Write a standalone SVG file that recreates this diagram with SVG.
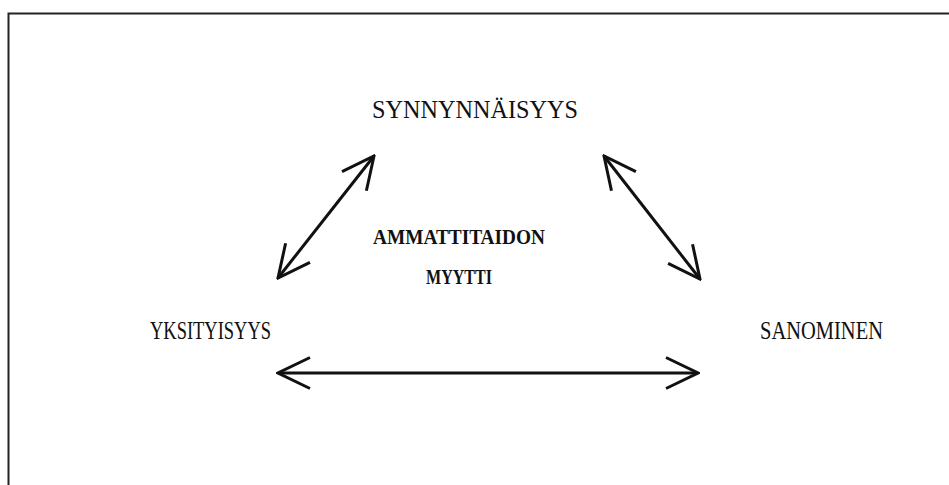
<svg xmlns="http://www.w3.org/2000/svg" width="949" height="485" viewBox="0 0 949 485">
  <style>
    .lbl { font-family: "Liberation Serif", "Times New Roman", serif; font-size: 26px; fill: #111; }
    .core { font-family: "Liberation Serif", "Times New Roman", serif; font-size: 21px; font-weight: bold; fill: #111; }
    .link { stroke: #111; stroke-width: 3; fill: none; }
    .frame { stroke: #222; stroke-width: 2; fill: none; }
  </style>
  <defs>
    <marker id="open-head" viewBox="0 0 36 36" refX="34" refY="18" markerWidth="36" markerHeight="36" markerUnits="userSpaceOnUse" orient="auto-start-reverse">
      <path d="M2,2.5 L34,18 L2,33.5" fill="none" stroke="#111" stroke-width="3" stroke-linejoin="miter"/>
    </marker>
  </defs>

  <rect width="949" height="485" fill="#fff"/>

  <!-- page frame -->
  <path class="frame" d="M8.5,485 V13.5 H949"/>

  <g id="node-synnynnaisyys">
    <text class="lbl" x="372" y="118" textLength="206" lengthAdjust="spacingAndGlyphs">SYNNYNNÄISYYS</text>
  </g>
  <g id="node-yksityisyys">
    <text class="lbl" x="150" y="339" textLength="121" lengthAdjust="spacingAndGlyphs">YKSITYISYYS</text>
  </g>
  <g id="node-sanominen">
    <text class="lbl" x="760" y="339" textLength="123" lengthAdjust="spacingAndGlyphs">SANOMINEN</text>
  </g>
  <g id="node-core">
    <text class="core" x="373" y="244" textLength="172" lengthAdjust="spacingAndGlyphs">AMMATTITAIDON</text>
    <text class="core" x="426" y="284" textLength="66" lengthAdjust="spacingAndGlyphs">MYYTTI</text>
  </g>

  <g id="connectors">
    <line class="link" x1="278" y1="278" x2="374" y2="156" marker-start="url(#open-head)" marker-end="url(#open-head)"/>
    <line class="link" x1="604" y1="156" x2="700" y2="279" marker-start="url(#open-head)" marker-end="url(#open-head)"/>
    <line class="link" x1="278" y1="373" x2="698" y2="373" marker-start="url(#open-head)" marker-end="url(#open-head)"/>
  </g>
</svg>
